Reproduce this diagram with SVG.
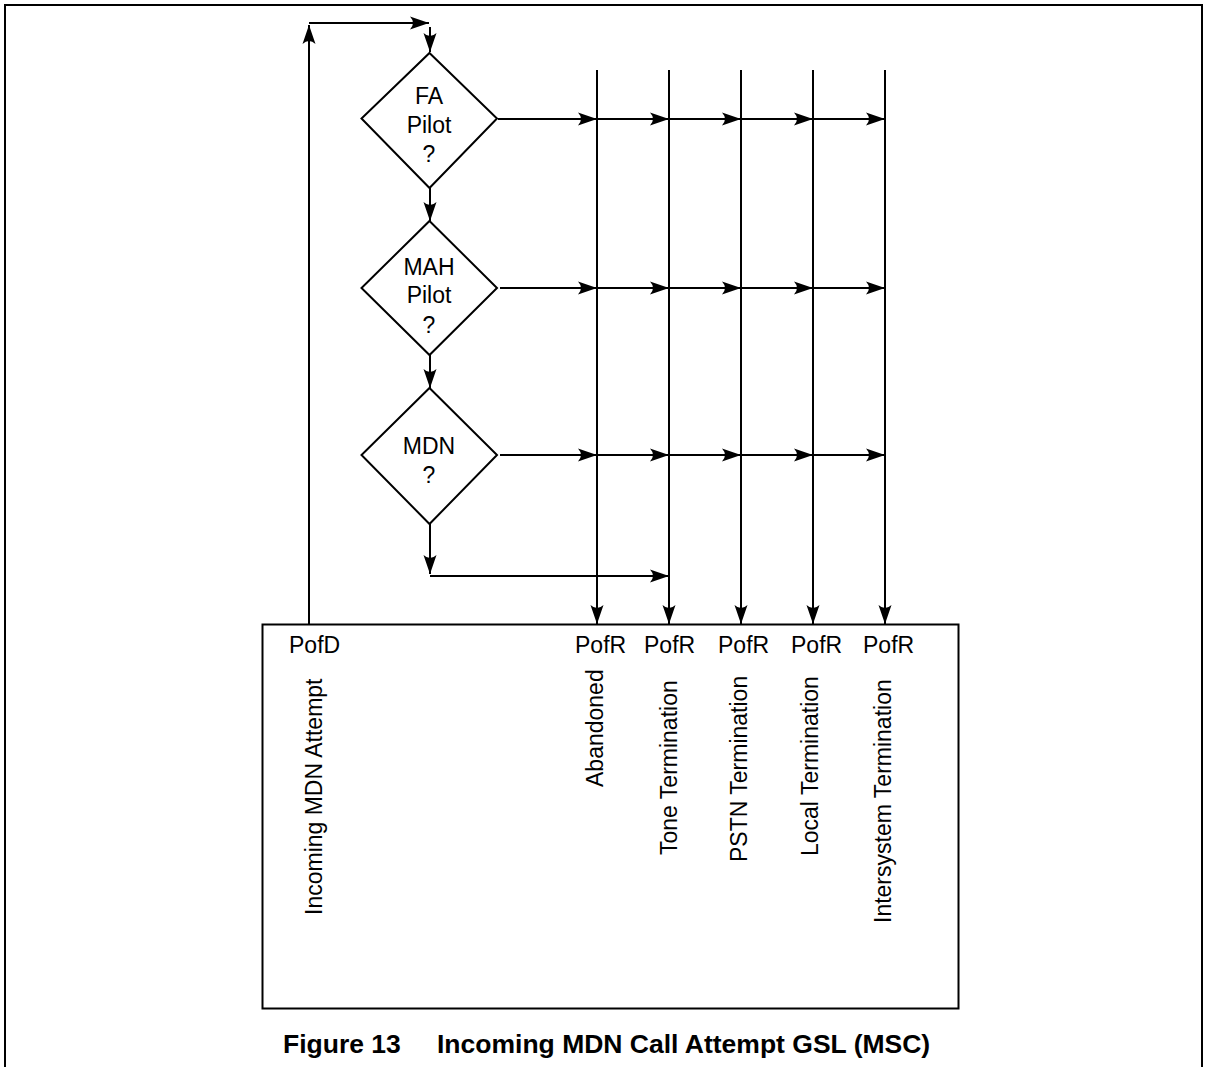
<svg xmlns="http://www.w3.org/2000/svg" width="1206" height="1067" viewBox="0 0 1206 1067">
<style>
  .ln { fill: none; stroke: #000; stroke-width: 2; }
  .arr { fill: none; stroke: #000; stroke-width: 2; marker-end: url(#ah); }
  .shape { fill: #fff; stroke: #000; stroke-width: 2; }
  .t { font-family: "Liberation Sans", Arial, sans-serif; font-size: 23px; fill: #000; }
  .c { text-anchor: middle; }
  .cap { font-family: "Liberation Sans", Arial, sans-serif; font-size: 26.5px; font-weight: bold; fill: #000; }
</style>
<defs>
  <marker id="ah" markerUnits="userSpaceOnUse" viewBox="-20 -8 21 16" refX="0" refY="0" markerWidth="21" markerHeight="16" orient="auto" overflow="visible">
    <path d="M0,0 L-19,-6.5 Q-13,0 -19,6.5 Z" fill="#000"/>
  </marker>
</defs>
<rect width="1206" height="1067" fill="#fff"/>
<path class="ln" d="M5,1067 V5 H1202 V1067" stroke-width="2.5"/>

<g id="connectors">
  <!-- loop back -->
  <path class="arr" d="M309,624 V25"/>
  <path class="arr" d="M309,23 H429"/>
  <path class="arr" d="M430,27 V52"/>
  <!-- between diamonds -->
  <path class="arr" d="M430,188 V221"/>
  <path class="arr" d="M430,355 V388"/>
  <path class="arr" d="M430,524 V574"/>
  <path class="arr" d="M430,576 H669"/>
  <!-- vertical outcome lines -->
  <path class="arr" d="M597,70 V624"/>
  <path class="arr" d="M669,70 V624"/>
  <path class="arr" d="M741,70 V624"/>
  <path class="arr" d="M813,70 V624"/>
  <path class="arr" d="M885,70 V624"/>
  <!-- FA row -->
  <path class="arr" d="M498,119 H597"/>
  <path class="arr" d="M597,119 H669"/>
  <path class="arr" d="M669,119 H741"/>
  <path class="arr" d="M741,119 H813"/>
  <path class="arr" d="M813,119 H885"/>
  <!-- MAH row -->
  <path class="arr" d="M500,288 H597"/>
  <path class="arr" d="M597,288 H669"/>
  <path class="arr" d="M669,288 H741"/>
  <path class="arr" d="M741,288 H813"/>
  <path class="arr" d="M813,288 H885"/>
  <!-- MDN row -->
  <path class="arr" d="M500,455 H597"/>
  <path class="arr" d="M597,455 H669"/>
  <path class="arr" d="M669,455 H741"/>
  <path class="arr" d="M741,455 H813"/>
  <path class="arr" d="M813,455 H885"/>
</g>

<g id="node-fa-pilot">
  <polygon class="shape" points="429.5,53 497,118.5 429.5,188 361.5,118.5"/>
  <text class="t c" x="429" y="104">FA</text>
  <text class="t c" x="429" y="133">Pilot</text>
  <text class="t c" x="429" y="162">?</text>
</g>

<g id="node-mah-pilot">
  <polygon class="shape" points="429.5,221 497,288 429.5,355 361.5,288"/>
  <text class="t c" x="429" y="275">MAH</text>
  <text class="t c" x="429" y="303">Pilot</text>
  <text class="t c" x="429" y="333">?</text>
</g>

<g id="node-mdn">
  <polygon class="shape" points="429.5,388 497,455 429.5,524 361.5,455"/>
  <text class="t c" x="429" y="454">MDN</text>
  <text class="t c" x="429" y="483">?</text>
</g>

<g id="node-gsl-box">
  <rect class="shape" x="262.5" y="624.5" width="696" height="384"/>
  <text class="t" x="289" y="653">PofD</text>
  <text class="t" x="575" y="653">PofR</text>
  <text class="t" x="644" y="653">PofR</text>
  <text class="t" x="718" y="653">PofR</text>
  <text class="t" x="791" y="653">PofR</text>
  <text class="t" x="863" y="653">PofR</text>
  <text class="t" transform="translate(322,915) rotate(-90)">Incoming MDN Attempt</text>
  <text class="t" transform="translate(603,787) rotate(-90)">Abandoned</text>
  <text class="t" transform="translate(677,855) rotate(-90)">Tone Termination</text>
  <text class="t" transform="translate(747,862) rotate(-90)">PSTN Termination</text>
  <text class="t" transform="translate(818,856) rotate(-90)">Local Termination</text>
  <text class="t" transform="translate(891,923) rotate(-90)">Intersystem Termination</text>
</g>

<text class="cap" y="1053"><tspan x="283">Figure 13</tspan><tspan x="437">Incoming MDN Call Attempt GSL (MSC)</tspan></text>
</svg>
